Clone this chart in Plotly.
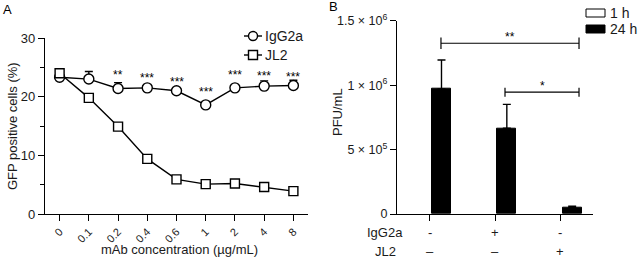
import plotly.graph_objects as go

# ---------------- data ----------------
conc_labels = ["0", "0.1", "0.2", "0.4", "0.6", "1", "2", "4", "8"]
igg2a = [23.3, 23.0, 21.4, 21.5, 21.0, 18.6, 21.5, 21.8, 21.9]
igg2a_err = [0.5, 1.3, 1.0, 0.3, 0.3, 0.3, 0.3, 0.9, 0.9]
jl2 = [24.0, 19.8, 14.9, 9.4, 5.9, 5.1, 5.2, 4.6, 3.9]
jl2_err = [0.6, 0.3, 0.3, 0.3, 0.3, 0.2, 0.2, 0.3, 0.2]
stars_a = ["", "", "**", "***", "***", "***", "***", "***", "***"]
stars_a_y = [None, None, 24.0, 23.5, 22.9, 21.2, 24.0, 23.85, 23.7]

groups_b = [0, 1, 2]
pfu_1h = [0, 0, 0]
pfu_24h = [0.97e6, 0.665e6, 0.052e6]
pfu_24h_err = [0.225e6, 0.186e6, 0.008e6]
igg2a_sign = ["-", "+", "-"]
jl2_sign = ["–", "–", "+"]
b_yticks = [0, 5e5, 1e6, 1.5e6]
b_yticktext = ["0", "5 × 10<sup>5</sup>", "1 × 10<sup>6</sup>", "1.5 × 10<sup>6</sup>"]

W, H = 638, 259
FONT = "Liberation Sans, Arial, sans-serif"
TXT = "#1a1a1a"


def px(x):
    return x / W


def py(y):
    return 1 - y / H


fig = go.Figure()

# ---- panel A ----
fig.add_trace(go.Scatter(
    x=conc_labels, y=igg2a, mode="lines+markers", name="IgG2a",
    line=dict(color="black", width=1.4),
    marker=dict(symbol="circle", size=10, color="white", line=dict(color="black", width=1.4)),
    error_y=dict(type="data", array=igg2a_err, arrayminus=[0] * 9, symmetric=False,
                 color="black", thickness=1.4, width=4),
    xaxis="x", yaxis="y", showlegend=False))
fig.add_trace(go.Scatter(
    x=conc_labels, y=jl2, mode="lines+markers", name="JL2",
    line=dict(color="black", width=1.4),
    marker=dict(symbol="square", size=9, color="white", line=dict(color="black", width=1.4)),
    error_y=dict(type="data", array=jl2_err, arrayminus=[0] * 9, symmetric=False,
                 color="black", thickness=1.4, width=4),
    xaxis="x", yaxis="y", showlegend=False))

# ---- panel B ----
fig.add_trace(go.Bar(
    x=groups_b, y=pfu_1h, name="1 h", offset=-0.33, width=0.29,
    marker=dict(color="white", line=dict(color="black", width=0)),
    xaxis="x2", yaxis="y2", showlegend=False))
fig.add_trace(go.Bar(
    x=groups_b, y=pfu_24h, name="24 h", offset=0.036, width=0.29,
    marker=dict(color="black", line=dict(color="black", width=1)),
    error_y=dict(type="data", array=pfu_24h_err, arrayminus=[0] * 3, symmetric=False,
                 color="black", thickness=1.4, width=4),
    xaxis="x2", yaxis="y2", showlegend=False))

axis_common = dict(showline=True, linecolor="black", linewidth=1.2, ticks="outside",
                   tickcolor="black", tickwidth=1.2, showgrid=False, zeroline=False,
                   automargin=False)

fig.update_layout(
    width=W, height=H, margin=dict(l=0, r=0, t=0, b=0, pad=0, autoexpand=False),
    plot_bgcolor="white", paper_bgcolor="white", showlegend=False,
    bargap=0,
    xaxis=dict(domain=[px(45), px(308)], type="category", range=[-0.5, 8.5],
               tickangle=-45, ticklen=6, anchor="y",
               tickfont=dict(family=FONT, size=11, color=TXT), **axis_common),
    yaxis=dict(domain=[py(214), py(38)], range=[0, 30], tickvals=[0, 10, 20, 30],
               ticklen=6, anchor="x",
               tickfont=dict(family=FONT, size=13, color=TXT),
               minor=dict(tickvals=[5, 15, 25], ticks="outside", ticklen=4,
                          tickcolor="black", tickwidth=1.2),
               **axis_common),
    xaxis2=dict(domain=[px(397), px(593)], range=[-0.5, 2.5], tickvals=groups_b,
                showticklabels=False, ticklen=6, anchor="y2", **axis_common),
    yaxis2=dict(domain=[py(214), py(20.7)], range=[0, 1.5e6], tickvals=b_yticks,
                ticktext=b_yticktext, ticklen=6, anchor="x2",
                tickfont=dict(family=FONT, size=12.5, color=TXT), **axis_common),
)

ann = []
shapes = []
# panel labels
ann.append(dict(text="A", x=px(1), y=py(9), xref="paper", yref="paper",
                xanchor="left", yanchor="middle", showarrow=False,
                font=dict(family=FONT, size=13, color="black")))
ann.append(dict(text="B", x=px(327), y=py(7), xref="paper", yref="paper",
                xanchor="left", yanchor="middle", showarrow=False,
                font=dict(family=FONT, size=13, color="black")))
# axis titles A
ann.append(dict(text="GFP positive cells (%)", x=px(12), y=py(126), xref="paper", yref="paper",
                textangle=-90, showarrow=False, xanchor="center", yanchor="middle",
                font=dict(family=FONT, size=13, color=TXT)))
ann.append(dict(text="mAb concentration (µg/mL)", x=px(179), y=py(249), xref="paper", yref="paper",
                showarrow=False, xanchor="center", yanchor="middle",
                font=dict(family=FONT, size=13, color=TXT)))
# axis title B
ann.append(dict(text="PFU/mL", x=px(337), y=py(112), xref="paper", yref="paper",
                textangle=-90, showarrow=False, xanchor="center", yanchor="middle",
                font=dict(family=FONT, size=13, color=TXT)))
# stars A (x given as category index)
for i, (s, yv) in enumerate(zip(stars_a, stars_a_y)):
    if s:
        ann.append(dict(text=s, x=i, y=yv, xref="x", yref="y", showarrow=False,
                        xanchor="center", yanchor="middle", yshift=-2,
                        font=dict(family=FONT, size=12, color="black")))
# legend A (manual)
for yy, name, sym in [(36, "IgG2a", "circle"), (55, "JL2", "square")]:
    shapes.append(dict(type="line", xref="paper", yref="paper", x0=px(244), x1=px(262),
                       y0=py(yy), y1=py(yy), line=dict(color="black", width=1.4)))
    shapes.append(dict(type=sym if sym == "circle" else "rect", xref="paper", yref="paper",
                       x0=px(248.5), x1=px(257.5), y0=py(yy + 4.5), y1=py(yy - 4.5),
                       fillcolor="white", line=dict(color="black", width=1.4)))
    ann.append(dict(text=name, x=px(263), y=py(yy), xref="paper", yref="paper",
                    showarrow=False, xanchor="left", yanchor="middle",
                    font=dict(family=FONT, size=14, color=TXT)))
# legend B (manual)
for yy, name, col in [(13, "1 h", "white"), (29, "24 h", "black")]:
    shapes.append(dict(type="rect", xref="paper", yref="paper", x0=px(586), x1=px(605),
                       y0=py(yy + 4), y1=py(yy - 4), fillcolor=col,
                       line=dict(color="black", width=1)))
    ann.append(dict(text=name, x=px(608), y=py(yy), xref="paper", yref="paper",
                    showarrow=False, xanchor="left", yanchor="middle",
                    font=dict(family=FONT, size=14, color=TXT)))
# significance brackets B
for x0, x1, yv, tick, txt in [(0.173, 2.286, 1.325e6, 0.045e6, "**"),
                              (1.153, 2.286, 0.945e6, 0.035e6, "*")]:
    shapes.append(dict(type="line", xref="x2", yref="y2", x0=x0, x1=x1, y0=yv, y1=yv,
                       line=dict(color="black", width=1.2)))
    for xe in (x0, x1):
        shapes.append(dict(type="line", xref="x2", yref="y2", x0=xe, x1=xe,
                           y0=yv - tick, y1=yv + tick, line=dict(color="black", width=1.2)))
    ann.append(dict(text=txt, x=(x0 + x1) / 2, y=yv, xref="x2", yref="y2", showarrow=False,
                    xanchor="center", yanchor="bottom", yshift=-3,
                    font=dict(family=FONT, size=12, color="black")))
# sign rows B
for g, s1, s2 in zip(groups_b, igg2a_sign, jl2_sign):
    ann.append(dict(text=s1, x=g, y=py(232), xref="x2", yref="paper", showarrow=False,
                    xanchor="center", yanchor="middle",
                    font=dict(family=FONT, size=13, color=TXT)))
    ann.append(dict(text=s2, x=g, y=py(251), xref="x2", yref="paper", showarrow=False,
                    xanchor="center", yanchor="middle",
                    font=dict(family=FONT, size=13, color=TXT)))
ann.append(dict(text="IgG2a", x=px(385), y=py(232), xref="paper", yref="paper",
                showarrow=False, xanchor="center", yanchor="middle",
                font=dict(family=FONT, size=13, color=TXT)))
ann.append(dict(text="JL2", x=px(385), y=py(251), xref="paper", yref="paper",
                showarrow=False, xanchor="center", yanchor="middle",
                font=dict(family=FONT, size=13, color=TXT)))

fig.update_layout(annotations=ann, shapes=shapes)
fig.write_html("out.html", config={"displayModeBar": False},
               post_script="document.body.style.margin='0';document.body.style.overflow='hidden';")
